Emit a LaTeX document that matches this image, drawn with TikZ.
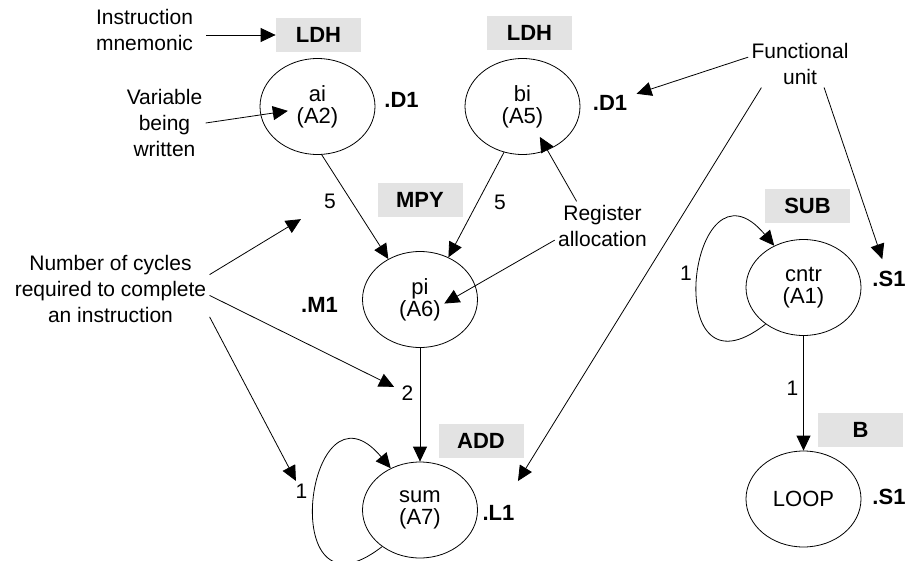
\documentclass[tikz,border=0pt]{standalone}
\usepackage{fontspec}
\setmainfont{Liberation Sans}
\usetikzlibrary{shapes.geometric,arrows.meta}

\begin{document}
\begin{tikzpicture}[x=1pt, y=-1pt, line width=0.8pt,
  >={Triangle[length=15pt,width=14pt]},
  regnode/.style={ellipse, draw, minimum width=115pt, minimum height=96pt,
    inner sep=0pt, align=center, font=\fontsize{22}{22}\selectfont},
  opbox/.style={fill=black!11, minimum width=85pt, minimum height=34pt,
    inner sep=0pt, font=\fontsize{22}{22}\selectfont\bfseries},
  unitlbl/.style={inner sep=3pt, font=\fontsize{22}{22}\selectfont\bfseries},
  cyclbl/.style={inner sep=3pt, font=\fontsize{21}{21}\selectfont},
  remark/.style={inner sep=3pt, align=center, font=\fontsize{21}{26}\selectfont},
  selfloop/.style={->}]
  \useasboundingbox (0,0) rectangle (908,560);

  % instructions
  \node[regnode] (ai) at (317.5,106.5) {ai\\(A2)};
  \node[regnode] (bi) at (522.5,106.5) {bi\\(A5)};
  \node[regnode] (pi) at (420,299.5) {pi\\(A6)};
  \node[regnode] (sum) at (420,510) {sum\\(A7)};
  \node[regnode] (cntr) at (803.5,287.5) {cntr\\(A1)};
  \node[regnode] (loop) at (803.5,499) {LOOP};

  \node[opbox] (opai) at (318.5,35) {LDH};
  \node[opbox] (opbi) at (529.5,33) {LDH};
  \node[opbox] (oppi) at (420,200) {MPY};
  \node[opbox] (opsum) at (481,441) {ADD};
  \node[opbox] (opcntr) at (807.5,206) {SUB};
  \node[opbox] (oploop) at (860.5,430) {B};

  \node[unitlbl] (uai) at (401.5,100) {.D1};
  \node[unitlbl] (ubi) at (610,102.5) {.D1};
  \node[unitlbl] (upi) at (319.5,305) {.M1};
  \node[unitlbl] (usum) at (498.5,512.5) {.L1};
  \node[unitlbl] (ucntr) at (889,279) {.S1};
  \node[unitlbl] (uloop) at (889,496.5) {.S1};

  \node[cyclbl] (lblai) at (330,201.5) {5};
  \node[cyclbl] (lblbi) at (500,202) {5};
  \node[cyclbl] (lblpi) at (407.5,393.5) {2};
  \node[cyclbl] (lblsum) at (301.5,491.5) {1};
  \node[cyclbl] (lblcntr) at (686,273.5) {1};
  \node[cyclbl] (lblloop) at (792.5,388) {1};

  % dependencies
  \draw[->] (ai.-85) -- (pi.128);
  \draw[->] (bi.-112) -- (pi.56);
  \draw[->] (pi) -- (sum);
  \draw[->] (cntr) -- (loop);
  \draw[selfloop] (sum.224) .. controls +(218:138pt) and +(130:131pt) .. (sum.125);
  \draw[selfloop] (cntr.224) .. controls +(218:138pt) and +(130:131pt) .. (cntr.125);

  % notes
  \node[remark] (mnemnote) at (144.5,30) {Instruction\\mnemonic};
  \node[remark] (varnote) at (164.5,123) {Variable\\being\\written};
  \node[remark] (cycnote) at (110.5,288.5) {Number of cycles\\required to complete\\an instruction};
  \node[remark] (funote) at (800,63.5) {Functional\\unit};
  \node[remark] (regnote) at (602.5,225.5) {Register\\allocation};

  \draw[->, shorten <=10pt] (mnemnote.east |- opai) -- (opai);
  \draw[->, shorten >=30pt] (varnote.east) -- (ai.center);
  \draw[->, shorten >=34pt] (cycnote.8.6) -- (lblai.center);
  \draw[->, shorten >=15pt] (cycnote.-4.3) -- (lblpi.center);
  \draw[->, shorten >=12pt] (cycnote.-16.7) -- (lblsum.center);
  \draw[->, shorten >=28pt] (funote.173) -- (ubi.center);
  \draw[->, shorten >=37pt] (funote.212) -- (usum.center);
  \draw[->, shorten >=21pt] (funote.-45) -- (ucntr.center);
  \draw[->, shorten >=35pt] (regnote.137) -- (bi.center);
  \draw[->, shorten >=28pt] (regnote.197) -- ([yshift=-18pt]pi.center);
\end{tikzpicture}
\end{document}
